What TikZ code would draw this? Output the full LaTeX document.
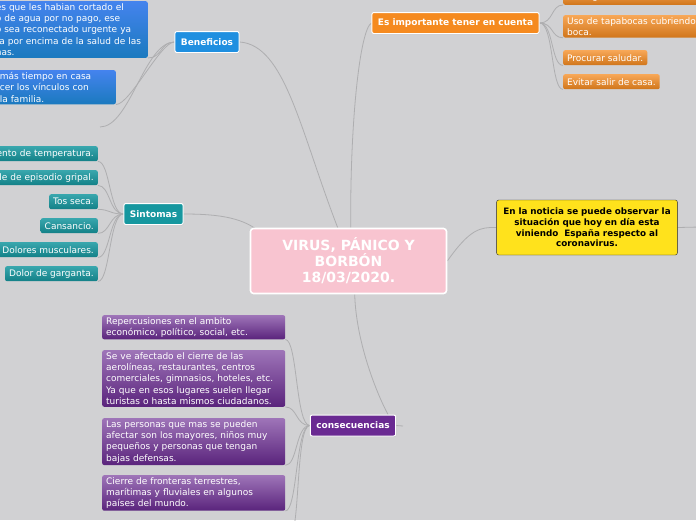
\documentclass[tikz,border=0pt]{standalone}
\usepackage{fontspec}
\setmainfont{DejaVu Sans}
\usetikzlibrary{positioning,calc,shadows}

\definecolor{bggray}{HTML}{D1D1D3}
\definecolor{lnkgray}{HTML}{AEAEB0}
\definecolor{hubpink}{HTML}{F8C4D0}
\definecolor{benblue}{HTML}{1F8FE0}
\definecolor{sinteal}{HTML}{16979F}
\definecolor{impor}{HTML}{F58A1F}
\definecolor{conpur}{HTML}{6A2A92}
\definecolor{notey}{HTML}{FFE21C}

\pgfdeclarelayer{back}
\pgfdeclarelayer{links}
\pgfsetlayers{back,links,main}

\begin{document}
\begin{tikzpicture}[x=1pt, y=-1pt, font=\fontsize{9}{11.4}\selectfont,
    hub/.style={draw=white, line width=1.6pt, rounded corners=3pt, fill=hubpink, text=white, align=center,
      font=\fontsize{14}{16}\selectfont\bfseries, minimum width=196pt, minimum height=65pt},
    topic/.style={draw=white, line width=1pt, rounded corners=2pt, text=white, font=\fontsize{9}{10}\selectfont\bfseries,
      minimum height=21pt, inner xsep=6pt, drop shadow={opacity=0.25, shadow xshift=0.6pt, shadow yshift=-0.8pt}},
    leaf/.style={rounded corners=2pt, text=white, align=left, inner xsep=4pt, inner ysep=2pt, minimum height=15pt},
    blueleaf/.style={leaf, top color=blue!30!benblue!80!white, bottom color=benblue!85!black},
    tealleaf/.style={leaf, top color=sinteal!85!white, bottom color=sinteal!85!black},
    orleaf/.style={leaf, top color=impor!75!white, bottom color=impor!85!black},
    purleaf/.style={leaf, top color=conpur!65!white, bottom color=conpur!85!black},
    yelnote/.style={draw=black!85, rounded corners=2pt, fill=notey, align=center, text width=174pt,
      font=\fontsize{8.8}{10.7}\selectfont\bfseries, minimum height=55pt},
    lnk/.style={draw=lnkgray, line width=0.8pt}]
  \useasboundingbox (0,0) rectangle (696,520);
  \clip (0,0) rectangle (696,520);
  \begin{pgfonlayer}{back}
    \fill[bggray] (0,0) rectangle (696,520);
  \end{pgfonlayer}
  % ---------------- centre and main topics ----------------
  \node[hub] (virus) at (348.5,261) {VIRUS, PÁNICO Y\\BORBÓN \\18/03/2020.};
  \node[topic, fill=benblue] (benef) at (207,42) {Beneficios};
  \node[topic, fill=sinteal] (sint) at (153.5,214) {Sintomas};
  \node[topic, fill=impor] (impt) at (455.5,23) {Es importante tener en cuenta};
  \node[topic, fill=conpur] (conse) at (353,425.5) {consecuencias};
  \node[yelnote] (noticia) at (587,227.5) {En la noticia se puede observar la\\situación que hoy en día esta\\viniendo\ \ España respecto al\\coronavirus.};
  \coordinate (farR) at (700,227);
  \coordinate (conseR) at (403,426);
  % ---------------- Beneficios ----------------
  \node[blueleaf, anchor=south east, text width=148pt] (b1) at (148,58)
    {es que les habian cortado el\\o de agua por no pago, ese\\o sea reconectado urgente ya\\ta por encima de la salud de las\\nas.};
  \node[blueleaf, anchor=north east, text width=112pt] (b2) at (116,70)
    {más tiempo en casa\\cer los vínculos con\\la familia.};
  \coordinate (b3) at (100,127);
  % ---------------- Sintomas ----------------
  \node[tealleaf, anchor=north east, text width=100pt, align=right] (s1) at (98,146) {ento de temperatura.};
  \node[tealleaf, anchor=north east, text width=100pt, align=right] (s2) at (98,170) {le de episodio gripal.};
  \foreach \txt/\yy [count=\i from 3] in {Tos seca./194, Cansancio./218, Dolores musculares./242, Dolor de garganta./266} {
    \node[tealleaf, anchor=north east] (s\i) at (98,\yy) {\txt};
  }
  % ---------------- Es importante tener en cuenta ----------------
  \node[orleaf, anchor=south west, text width=150pt] (e1) at (563,5) {contagiadas.};
  \node[orleaf, anchor=north west, text width=150pt] (e2) at (563,15) {Uso de tapabocas cubriendo\\boca.};
  \node[orleaf, anchor=north west] (e3) at (563,50) {Procurar saludar.};
  \node[orleaf, anchor=north west] (e4) at (563,74) {Evitar salir de casa.};
  % ---------------- consecuencias ----------------
  \node[purleaf, anchor=north west, text width=175pt] (c1) at (102,315)
    {Repercusiones en el ambito\\económico, político, social, etc.};
  \node[purleaf, anchor=north west, text width=175pt] (c2) at (102,350)
    {Se ve afectado el cierre de las\\aerolíneas, restaurantes, centros\\comerciales, gimnasios, hoteles, etc.\\Ya que en esos lugares suelen llegar\\turistas o hasta mismos ciudadanos.};
  \node[purleaf, anchor=north west, text width=175pt] (c3) at (102,418)
    {Las personas que mas se pueden\\afectar son los mayores, niños muy\\pequeños y personas que tengan\\bajas defensas.};
  \node[purleaf, anchor=north west, text width=175pt] (c4) at (102,475)
    {Cierre de fronteras terrestres,\\marítimas y fluviales en algunos\\países del mundo.};
  \coordinate (c5) at (290,535);
  % ---------------- connectors ----------------
  \begin{pgfonlayer}{links}
  \path[lnk] (benef.east) .. controls (285,45) and (300,130) .. ($(virus.north west)+(88,0)$);
  \path[lnk] (impt.west) .. controls (360,30) and (350,120) .. ($(virus.north west)+(101,0)$);
  \path[lnk] (sint.east) .. controls (220,214) and (245,218) .. ($(virus.north west)+(12,6)$);
  \path[lnk] (virus.east) .. controls (470,229) and (480,227) .. (noticia.west);
  \path[lnk] (noticia.east) -- (farR);
  \path[lnk] ($(virus.south west)+(105,0)$) .. controls (356,340) and (375,390) .. ($(conse.north)+(35,0)$);
  \path[lnk] (conse.east) -- (conseR);
  \foreach \n in {b1,b2} {
    \path[lnk] (benef.west) .. controls +(-14,0) and +(14,0) .. (\n.south east);
  }
  \path[lnk] (benef.west) .. controls +(-30,0) and +(30,0) .. (b3);
  \foreach \i in {1,...,6} {
    \path[lnk] (sint.west) .. controls +(-14,0) and +(12,0) .. (s\i.south east);
  }
  \foreach \i in {1,...,4} {
    \path[lnk] (impt.east) .. controls +(14,0) and +(-12,0) .. (e\i.south west);
  }
  \foreach \i in {1,...,4} {
    \path[lnk] (conse.west) .. controls +(-14,0) and +(12,0) .. (c\i.south east);
  }
  \path[lnk] (conse.west) .. controls +(-14,0) and +(10,0) .. (c5);
  \end{pgfonlayer}
\end{tikzpicture}
\end{document}
